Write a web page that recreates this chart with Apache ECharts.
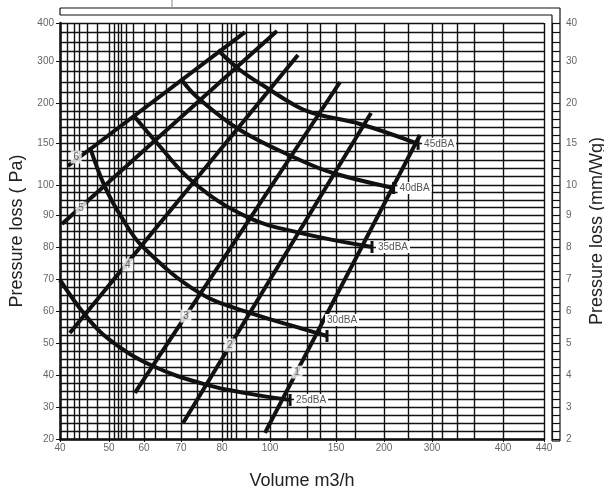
<!DOCTYPE html>
<html>
<head>
<meta charset="utf-8">
<script src="https://cdn.jsdelivr.net/npm/echarts@6/dist/echarts.min.js"></script>
<style>
html, body { margin: 0; padding: 0; background: #fff; }
#chart { width: 604px; height: 494px; }
</style>
</head>
<body>
<div id="chart"></div>
<script>
// printed chart scale: labelled ticks and where they sit along each axis
var xTicks = [40, 50, 60, 70, 80, 100, 150, 200, 300, 400, 440];
var xTickPos = [0, 49, 84, 121, 162, 210, 276, 324, 372, 443, 484];
var yTicks = [20, 30, 40, 50, 60, 70, 80, 90, 100, 150, 200, 300, 400];
var yTickPos = [0, 32, 64, 96, 128, 160, 192, 224, 254, 296, 336, 378, 416];
var mmTicks = [2, 3, 4, 5, 6, 7, 8, 9, 10, 15, 20, 30, 40];

// extra grid lines (m3/h and Pa)
var xGrid = [41.5, 43, 44, 45.5, 47.5, 51.5, 52.5, 53.5, 55, 57, 63, 66, 74, 77,
  82, 84, 86, 90, 95, 113, 128, 138, 170, 250, 315, 335, 360];
var yGrid = [22.5, 25, 27.5, 32.5, 35, 37.5, 42.5, 45, 47.5, 52.5, 55, 57.5, 62.5, 65, 67.5,
  72.5, 75, 77.5, 82.5, 85, 87.5, 92.5, 95, 97.5, 110, 120, 130, 140, 160, 170, 180, 190,
  225, 250, 275, 325, 350, 375];

// numbered straight lines: start, end, label point  [m3/h, Pa]
var lineNames = ['1', '2', '3', '4', '5', '6'];
var lineStart = [[97.9, 21.9], [70.5, 25], [57.4, 34.4], [42, 53.1], [40.4, 87.2], [41.6, 122.6]];
var lineEnd = [[275, 160], [186.5, 187.5], [154.2, 250], [121.2, 315.8], [105.3, 379], [89.6, 376]];
var lineLabelAt = [[120.5, 40.9], [83.3, 49.4], [71.2, 58.4], [55.4, 74.4], [44.3, 92.3], [43.3, 133.3]];

// sound level curves
var dbaNames = ['25dBA', '30dBA', '35dBA', '40dBA', '45dBA'];
var dba25 = [[40, 69.7], [45.1, 58.8], [50.3, 50.9], [62.4, 42.8], [76.3, 36.9], [91.7, 34.1], [115.2, 32.2]];
var dba30 = [[46.1, 145.2], [49.2, 99.3], [53.7, 89.1], [59.7, 80], [74.6, 65.6], [91.7, 59.4], [122.7, 54.7], [143.2, 52.2]];
var dba35 = [[57.4, 182.5], [63.5, 150], [72.9, 103.6], [90.4, 89.4], [122.7, 84.4], [187.5, 80]];
var dba40 = [[70.2, 254.8], [73.9, 214.3], [87.5, 166.3], [122.7, 129.8], [147.7, 114.3], [220, 99]];
var dba45 = [[79, 328.9], [87.5, 278.6], [98.8, 235.7], [122.7, 193.8], [137.9, 185], [175, 173.8], [271, 149]];
var dbaData = [dba25, dba30, dba35, dba40, dba45];

function interp(v, ticks, pos) {
  for (var i = 0; i < ticks.length - 2; i++) {
    if (v <= ticks[i + 1]) break;
  }
  return pos[i] + (v - ticks[i]) / (ticks[i + 1] - ticks[i]) * (pos[i + 1] - pos[i]);
}
function sx(v) { return interp(v, xTicks, xTickPos); }
function sy(v) { return interp(v, yTicks, yTickPos); }
function pt(p) { return [sx(p[0]), sy(p[1])]; }

var ink = '#111';
var chart = echarts.init(document.getElementById('chart'));

var gridLines = [];
xGrid.forEach(function (v) { gridLines.push({ xAxis: sx(v) }); });
xTicks.forEach(function (v) { gridLines.push({ xAxis: sx(v) }); });
yGrid.forEach(function (v) { gridLines.push({ yAxis: sy(v) }); });
yTicks.forEach(function (v) { gridLines.push({ yAxis: sy(v) }); });

// right strip ticks on every horizontal grid line
var stripTicks = yTickPos.concat(yGrid.map(sy));

var series = [{
  type: 'line',
  data: [],
  z: 1,
  markLine: {
    silent: true,
    symbol: 'none',
    z: 1,
    label: { show: false },
    lineStyle: { color: ink, width: 1.4, type: 'solid' },
    data: gridLines
  }
}];

lineNames.forEach(function (n, i) {
  series.push({
    type: 'line',
    z: 4,
    symbol: 'none',
    lineStyle: { color: ink, width: 4 },
    data: [pt(lineStart[i]), pt(lineEnd[i])]
  });
});

dbaNames.forEach(function (n, i) {
  var d = dbaData[i].map(pt);
  var last = d.length - 1;
  var data = d.map(function (p, j) {
    if (j === last) return { value: p, symbol: 'rect', symbolSize: [3, 12] };
    return { value: p };
  });
  series.push({
    type: 'line',
    z: 4,
    smooth: 0.4,
    symbol: 'none',
    itemStyle: { color: ink },
    lineStyle: { color: ink, width: 4 },
    endLabel: {
      show: true,
      formatter: n,
      color: '#555',
      fontSize: 10,
      fontFamily: 'Liberation Sans',
      backgroundColor: '#fff',
      padding: [1, 2],
      distance: 4,
      offset: n === '30dBA' ? [-6, -16] : [0, 0]
    },
    data: data
  });
});

series.push({
  type: 'scatter',
  z: 6,
  symbol: 'rect',
  symbolSize: [11, 13],
  itemStyle: { color: '#fff' },
  label: {
    show: true,
    position: 'inside',
    color: '#444',
    fontSize: 10,
    fontFamily: 'Liberation Sans',
    formatter: function (p) { return p.name; }
  },
  data: lineNames.map(function (n, i) { return { name: n, value: pt(lineLabelAt[i]) }; })
});

chart.setOption({
  animation: false,
  backgroundColor: '#fff',
  grid: { left: 60, right: 60, top: 23, bottom: 55, outerBoundsMode: 'none', containLabel: false },
  xAxis: {
    type: 'value',
    min: 0,
    max: 484,
    name: 'Volume m3/h',
    nameLocation: 'middle',
    nameGap: 33,
    nameTextStyle: { color: '#222', fontSize: 18, fontFamily: 'Liberation Sans' },
    axisLine: { onZero: false, lineStyle: { color: ink, width: 2.5 } },
    axisTick: { show: true, length: 3, customValues: xTickPos, lineStyle: { color: ink } },
    splitLine: { show: false },
    axisLabel: {
      customValues: xTickPos,
      margin: 4,
      color: '#666',
      fontSize: 10,
      fontFamily: 'Liberation Sans',
      formatter: function (v) { return xTicks[xTickPos.indexOf(v)]; }
    }
  },
  yAxis: [{
    type: 'value',
    min: 0,
    max: 416,
    name: 'Pressure loss ( Pa)',
    nameLocation: 'middle',
    nameGap: 33,
    nameTextStyle: { color: '#222', fontSize: 18, fontFamily: 'Liberation Sans' },
    axisLine: { show: true, onZero: false, lineStyle: { color: ink, width: 2.5 } },
    axisTick: { show: true, length: 4, customValues: yTickPos, lineStyle: { color: ink } },
    splitLine: { show: false },
    axisLabel: {
      customValues: yTickPos,
      margin: 6,
      color: '#666',
      fontSize: 10,
      fontFamily: 'Liberation Sans',
      formatter: function (v) { return yTicks[yTickPos.indexOf(v)]; }
    }
  }, {
    type: 'value',
    min: 0,
    max: 416,
    position: 'right',
    offset: 8,
    name: 'Pressure loss (mm/Wg)',
    nameLocation: 'middle',
    nameGap: 34,
    nameRotate: 90,
    nameTextStyle: { color: '#222', fontSize: 18, fontFamily: 'Liberation Sans' },
    axisLine: { show: true, onZero: false, lineStyle: { color: ink, width: 1.2 } },
    axisTick: { show: true, length: 8, customValues: stripTicks, lineStyle: { color: ink, width: 1.2 } },
    splitLine: { show: false },
    axisLabel: {
      customValues: yTickPos,
      margin: 14,
      color: '#666',
      fontSize: 10,
      fontFamily: 'Liberation Sans',
      formatter: function (v) { return mmTicks[yTickPos.indexOf(v)]; }
    }
  }],
  graphic: [
    { type: 'line', shape: { x1: 60, y1: 8, x2: 560, y2: 8 }, style: { stroke: ink, lineWidth: 1.2 } },
    { type: 'line', shape: { x1: 60, y1: 15, x2: 552, y2: 15 }, style: { stroke: ink, lineWidth: 1.2 } },
    { type: 'line', shape: { x1: 60, y1: 8, x2: 60, y2: 15 }, style: { stroke: ink, lineWidth: 1.2 } },
    { type: 'line', shape: { x1: 560, y1: 8, x2: 560, y2: 441 }, style: { stroke: ink, lineWidth: 1.2 } },
    { type: 'line', shape: { x1: 552, y1: 15, x2: 552, y2: 441 }, style: { stroke: ink, lineWidth: 1.2 } },
    { type: 'line', shape: { x1: 552, y1: 441, x2: 560, y2: 441 }, style: { stroke: ink, lineWidth: 1.2 } },
    { type: 'line', shape: { x1: 172, y1: 0, x2: 172, y2: 7 }, style: { stroke: '#888', lineWidth: 1 } }
  ],
  series: series
});
</script>
</body>
</html>
